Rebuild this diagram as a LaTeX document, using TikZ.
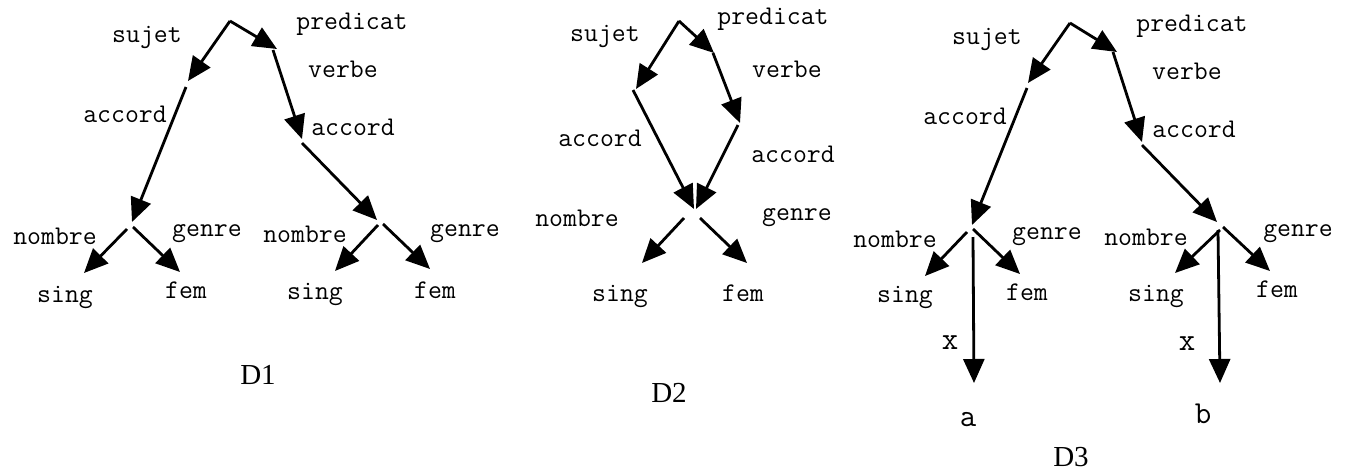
\documentclass[tikz,border=0pt]{standalone}
\usepackage{fontspec}
\setmainfont{Liberation Serif}
\usetikzlibrary{arrows.meta}
\begin{document}
\begin{tikzpicture}[x=1pt,y=-1pt,
  edge/.style={line width=2.8pt,-{Triangle[length=24pt,width=21pt]}},
  lbl/.style={font=\fontsize{27}{30}\selectfont\ttfamily,inner sep=0pt},
  big/.style={font=\fontsize{32}{34}\selectfont\ttfamily,inner sep=0pt},
  dname/.style={font=\fontsize{29}{32}\selectfont,inner sep=0pt}]
\useasboundingbox (0,0) rectangle (1350,472);
% ---------------- D1 ----------------
\coordinate (r1) at (230,21);
\coordinate (s1) at (188,81);
\coordinate (s1b) at (186,87);
\coordinate (p1) at (277,49);
\coordinate (p1b) at (273,50);
\coordinate (a1) at (132,222);
\coordinate (a1n) at (127,229);
\coordinate (a1g) at (133,227);
\coordinate (v1) at (302,139);
\coordinate (v1b) at (302,143);
\coordinate (b1) at (377,220);
\coordinate (b1n) at (378,225);
\coordinate (b1g) at (383,224);
\coordinate (sg1) at (84,273);
\coordinate (fm1) at (180,272);
\coordinate (sg2) at (335,271);
\coordinate (fm2) at (430,269);
\draw[edge] (r1) -- (s1);
\draw[edge] (r1) -- (p1);
\draw[edge] (s1b) -- (a1);
\draw[edge] (p1b) -- (v1);
\draw[edge] (v1b) -- (b1);
\draw[edge] (a1n) -- (sg1);
\draw[edge] (a1g) -- (fm1);
\draw[edge] (b1n) -- (sg2);
\draw[edge] (b1g) -- (fm2);
\node[lbl] (l1a) at (147,37) {sujet};
\node[lbl] (l1b) at (352,24) {predicat};
\node[lbl] (l1c) at (343,69) {verbe};
\node[lbl] (l1d) at (125,114) {accord};
\node[lbl] (l1e) at (353,127) {accord};
\node[lbl] (l1f) at (55,236) {nombre};
\node[lbl] (l1g) at (207,234) {genre};
\node[lbl] (l1h) at (65,297) {sing};
\node[lbl] (l1i) at (186,290) {fem};
\node[lbl] (l1j) at (305,234) {nombre};
\node[lbl] (l1k) at (465,234) {genre};
\node[lbl] (l1l) at (315,294) {sing};
\node[lbl] (l1m) at (435,290) {fem};
\node[dname] (d1) at (258,375) {D1};
% ---------------- D2 ----------------
\coordinate (r2) at (679,21);
\coordinate (s2) at (636,89);
\coordinate (s2b) at (633,90);
\coordinate (p2) at (714,53);
\coordinate (p2b) at (713,53);
\coordinate (v2) at (740,123);
\coordinate (v2b) at (738,125);
\coordinate (m2l) at (694,209);
\coordinate (m2r) at (696,209);
\coordinate (m2n) at (684,218);
\coordinate (m2g) at (700,218);
\coordinate (sg3) at (642,263);
\coordinate (fm3) at (747,263);
\draw[edge] (r2) -- (s2);
\draw[edge] (r2) -- (p2);
\draw[edge] (p2b) -- (v2);
\draw[edge] (s2b) -- (m2l);
\draw[edge] (v2b) -- (m2r);
\draw[edge] (m2n) -- (sg3);
\draw[edge] (m2g) -- (fm3);
\node[lbl] (l2a) at (605,36) {sujet};
\node[lbl] (l2b) at (773,19) {predicat};
\node[lbl] (l2c) at (787,69) {verbe};
\node[lbl] (l2d) at (600,138) {accord};
\node[lbl] (l2e) at (793,154) {accord};
\node[lbl] (l2f) at (577,218) {nombre};
\node[lbl] (l2g) at (797,218) {genre};
\node[lbl] (l2h) at (620,296) {sing};
\node[lbl] (l2i) at (743,293) {fem};
\node[dname] (d2) at (669,393) {D2};
% ---------------- D3 ----------------
\coordinate (r3) at (1070,23);
\coordinate (s3) at (1028,83);
\coordinate (s3b) at (1027,88);
\coordinate (p3) at (1117,52);
\coordinate (p3b) at (1113,52);
\coordinate (v3) at (1142,142);
\coordinate (v3b) at (1142,145);
\coordinate (a3) at (972,225);
\coordinate (a3n) at (967,232);
\coordinate (a3g) at (973,229);
\coordinate (a3x) at (973,237);
\coordinate (b3) at (1217,222);
\coordinate (b3n) at (1220,230);
\coordinate (b3g) at (1223,227);
\coordinate (b3x) at (1218,230);
\coordinate (sg4) at (925,276);
\coordinate (fm4) at (1020,274);
\coordinate (xa) at (974,383);
\coordinate (sg5) at (1175,273);
\coordinate (fm5) at (1270,271);
\coordinate (xb) at (1220,383);
\draw[edge] (r3) -- (s3);
\draw[edge] (r3) -- (p3);
\draw[edge] (s3b) -- (a3);
\draw[edge] (p3b) -- (v3);
\draw[edge] (v3b) -- (b3);
\draw[edge] (a3n) -- (sg4);
\draw[edge] (a3g) -- (fm4);
\draw[edge] (a3x) -- (xa);
\draw[edge] (b3n) -- (sg5);
\draw[edge] (b3g) -- (fm5);
\draw[edge] (b3x) -- (xb);
\node[lbl] (l3a) at (987,39) {sujet};
\node[lbl] (l3b) at (1192,26) {predicat};
\node[lbl] (l3c) at (1187,71) {verbe};
\node[lbl] (l3d) at (965,116) {accord};
\node[lbl] (l3e) at (1194,129) {accord};
\node[lbl] (l3f) at (895,239) {nombre};
\node[lbl] (l3g) at (1047,237) {genre};
\node[lbl] (l3h) at (905,297) {sing};
\node[lbl] (l3i) at (1027,292) {fem};
\node[lbl] (l3j) at (1146,237) {nombre};
\node[lbl] (l3k) at (1298,234) {genre};
\node[lbl] (l3l) at (1156,296) {sing};
\node[lbl] (l3m) at (1277,289) {fem};
\node[big] (x1) at (950,343) {x};
\node[big] (x2) at (1187,344) {x};
\node[big] (na) at (968,420) {a};
\node[big] (nb) at (1203,414) {b};
\node[dname] (d3) at (1071,457) {D3};
\end{tikzpicture}
\end{document}
